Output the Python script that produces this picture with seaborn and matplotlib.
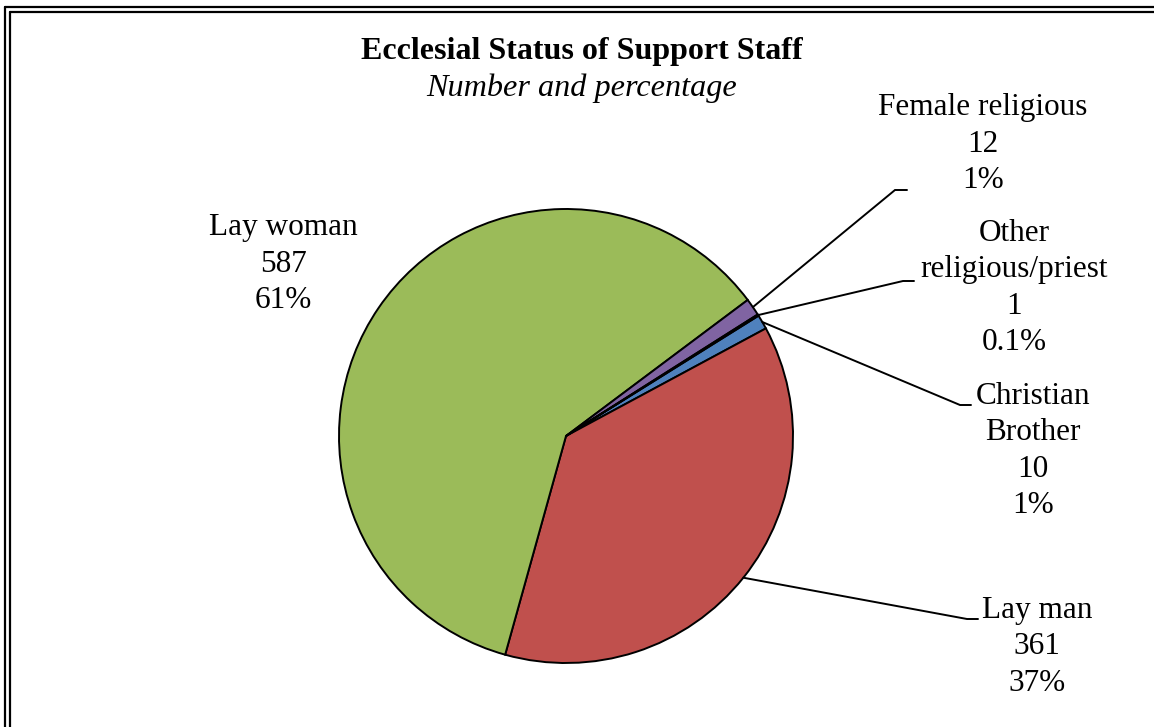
import matplotlib
matplotlib.use('Agg')
import matplotlib.pyplot as plt
import seaborn as sns
import numpy as np
from matplotlib.lines import Line2D

# ---- data ----
categories = ["Christian\nBrother", "Lay man", "Lay woman", "Female religious", "Other\nreligious/priest"]
counts = [10, 361, 587, 12, 1]
pct_labels = ["1%", "37%", "61%", "1%", "0.1%"]
colors = ["#4F81BD", "#C0504D", "#9BBB59", "#8064A2", "#4BACC6"]

title = "Ecclesial Status of Support Staff"
subtitle = "Number and percentage"

# ---- layout (pixel-based, relative to pie) ----
W, H = 1154, 727
cx, cy, R = 566, 436, 227
# label block centres (px)
label_px = [(1033, 451), (1037, 647), (283, 264), (983, 144), (1014, 288)]
# leader elbow and end (px); None = no leader
leader_px = [((960, 405), (971, 405)),
             ((967, 619), (978, 619)),
             None,
             ((895, 190), (907, 190)),
             ((903, 281), (914, 281))]

sns.set_style("white")
plt.rcParams['font.family'] = ['Liberation Serif', 'DejaVu Serif']
plt.rcParams['text.color'] = 'black'

fig = plt.figure(figsize=(W / 100, H / 100), dpi=100)
ax = fig.add_axes([(cx - R) / W, (H - cy - R) / H, 2 * R / W, 2 * R / H])
wedges, _ = ax.pie(counts, colors=colors, startangle=32, counterclock=False, radius=1,
                   wedgeprops=dict(edgecolor='black', linewidth=1.4))
ax.set_xlim(-1, 1)
ax.set_ylim(-1, 1)
ax.set_aspect('equal')
ax.axis('off')


def to_data(p):
    return ((p[0] - cx) / R, (cy - p[1]) / R)


FS = 22.5
for w, cat, n, pct, lp, ld in zip(wedges, categories, counts, pct_labels, label_px, leader_px):
    tx, ty = to_data(lp)
    ax.text(tx, ty, f"{cat}\n{n}\n{pct}", ha='center', va='center', multialignment='center',
            fontsize=FS, linespacing=1.34, clip_on=False, color='black')
    if ld is not None:
        mid = np.deg2rad((w.theta1 + w.theta2) / 2)
        sx, sy = np.cos(mid), np.sin(mid)
        ex1, ey1 = to_data(ld[0])
        ex2, ey2 = to_data(ld[1])
        ax.plot([sx, ex1, ex2], [sy, ey1, ey2], color='black', lw=1.4, clip_on=False,
                solid_joinstyle='miter')

fig.text(582 / W, 1 - 59 / H, title, ha='center', va='baseline', fontsize=23,
         fontweight='bold', color='black')
fig.text(582 / W, 1 - 96 / H, subtitle, ha='center', va='baseline', fontsize=23.2,
         fontstyle='italic', color='black')

# double frame (left & top visible, right/bottom cropped)
for off in (4.5, 9.5):
    fig.add_artist(Line2D([off / W, off / W], [-0.1, 1 - (off + 2) / H],
                          transform=fig.transFigure, color='black', lw=1.6))
    fig.add_artist(Line2D([off / W, 1.1], [1 - (off + 2) / H, 1 - (off + 2) / H],
                          transform=fig.transFigure, color='black', lw=1.6))

fig.savefig('out.png', dpi=100)
